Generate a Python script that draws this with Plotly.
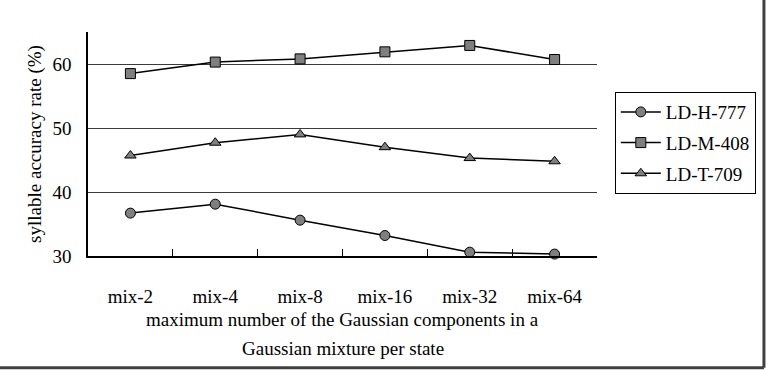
import plotly.graph_objects as go

categories = ["mix-2", "mix-4", "mix-8", "mix-16", "mix-32", "mix-64"]
ld_h_777 = [36.7, 38.1, 35.6, 33.2, 30.6, 30.3]
ld_m_408 = [58.5, 60.3, 60.8, 61.9, 62.9, 60.7]
ld_t_709 = [45.7, 47.7, 49.0, 47.0, 45.3, 44.8]
y_ticks = [30, 40, 50, 60]

FONT = "Liberation Serif"

fig = go.Figure()
series = [("LD-H-777", ld_h_777, "circle"),
          ("LD-M-408", ld_m_408, "square"),
          ("LD-T-709", ld_t_709, "triangle-up")]
for name, vals, sym in series:
    fig.add_trace(go.Scatter(
        x=categories, y=vals, name=name, mode="lines+markers",
        legendgroup=name,
        line=dict(color="black", width=1.5),
        marker=dict(symbol=sym, size=10, color="#7f7f7f",
                    line=dict(color="black", width=1)),
        cliponaxis=False,
    ))

fig.update_layout(
    width=768, height=370,
    margin=dict(l=88, r=168, t=32, b=114),
    paper_bgcolor="white", plot_bgcolor="white",
    font=dict(family=FONT, size=19, color="black"),
    showlegend=True,
    legend=dict(x=1.035, y=0.732, xanchor="left", yanchor="top",
                bordercolor="black", borderwidth=1,
                font=dict(family=FONT, size=19),
                itemwidth=40, tracegroupgap=3, bgcolor="white"),
    xaxis=dict(type="category", range=[-0.5, 5.5],
               showline=True, linecolor="black", linewidth=1.5,
               ticks="inside", ticklen=7, tickcolor="black", tickwidth=1,
               tickson="boundaries", showgrid=False,
               ticklabelstandoff=22,
               tickfont=dict(family=FONT, size=19)),
    yaxis=dict(range=[30, 65], tickvals=y_ticks,
               showline=True, linecolor="black", linewidth=1.5,
               ticks="", showgrid=True, gridcolor="#3a3a3a", gridwidth=1.2,
               zeroline=False, ticklabelstandoff=11,
               tickfont=dict(family=FONT, size=19),
               title=dict(text="syllable accuracy rate (%)",
                          font=dict(family=FONT, size=19), standoff=6)),
    annotations=[
        dict(text="maximum number of the Gaussian components in a",
             xref="paper", yref="paper", x=0.5, y=-0.285,
             xanchor="center", yanchor="middle", showarrow=False,
             font=dict(family=FONT, size=19)),
        dict(text="Gaussian mixture per state",
             xref="paper", yref="paper", x=0.5, y=-0.415,
             xanchor="center", yanchor="middle", showarrow=False,
             font=dict(family=FONT, size=19)),
    ],
    shapes=[
        dict(type="line", xref="paper", yref="paper",
             x0=-0.2, x1=1.328, y0=-0.4985, y1=-0.4985,
             line=dict(color="#404040", width=3)),
        dict(type="line", xref="paper", yref="paper",
             x0=1.328, x1=1.328, y0=-0.4985, y1=1.2,
             line=dict(color="#404040", width=3)),
    ],
)

fig.write_html("out.html")
